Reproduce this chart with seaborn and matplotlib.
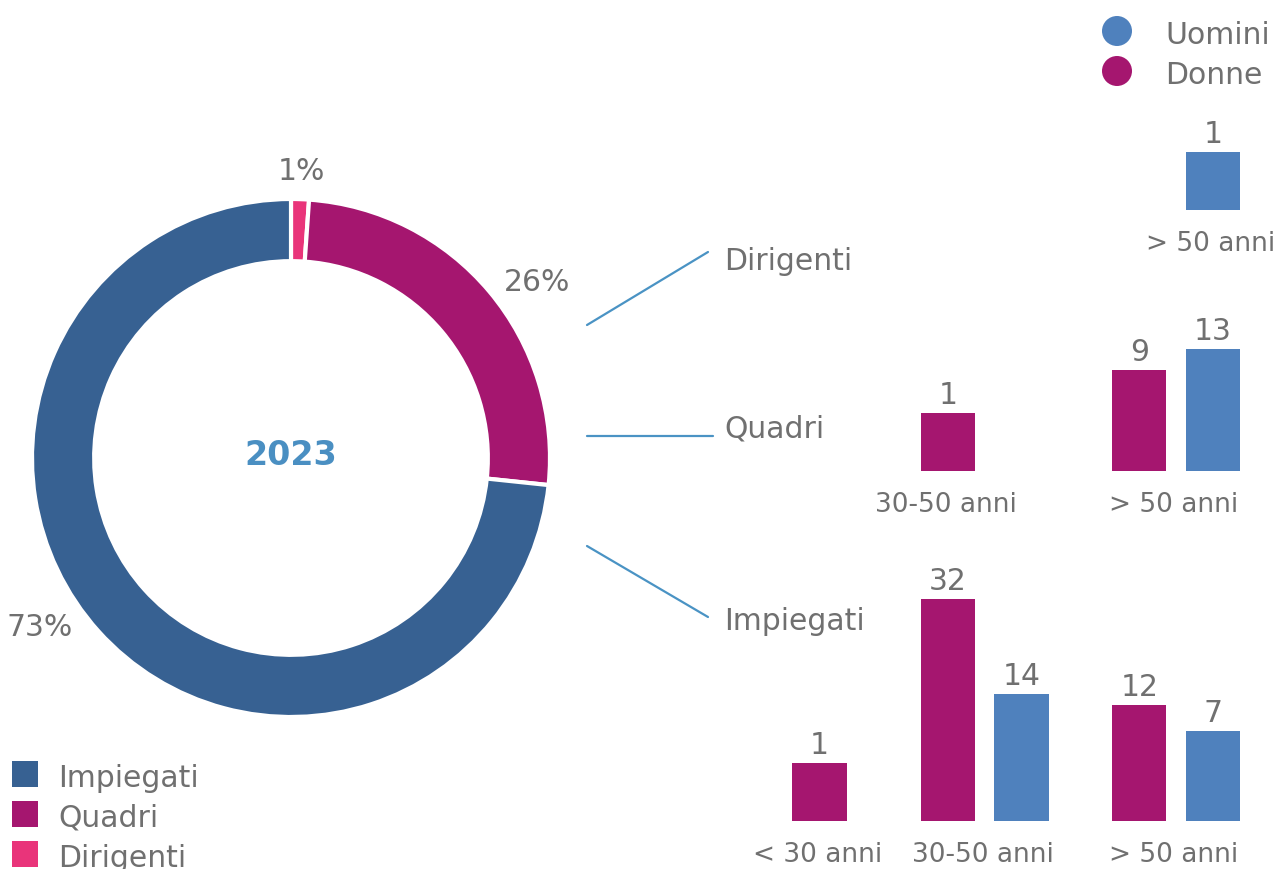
import numpy as np
import pandas as pd
import matplotlib
matplotlib.use("Agg")
import matplotlib.pyplot as plt
from matplotlib.patches import Rectangle, Circle
from matplotlib.lines import Line2D
import seaborn as sns

# Headcount by role, age band and sex
roles = ["Impiegati", "Quadri", "Dirigenti"]
age_bands = ["< 30 anni", "30-50 anni", "> 50 anni"]
sexes = ["Uomini", "Donne"]

impiegati_donne = [1, 32, 12]
impiegati_uomini = [0, 14, 7]
quadri_donne = [0, 1, 9]
quadri_uomini = [0, 0, 13]
dirigenti_donne = [0, 0, 0]
dirigenti_uomini = [0, 0, 1]

year_label = "2023"

# ---- styling -------------------------------------------------------------
sns.set_theme(style="white")
plt.rcParams["font.family"] = ["DejaVu Sans"]

GRAY = "#707070"
FS = 21.5
FS_TICK = 19
role_colors = {"Impiegati": "#376192", "Quadri": "#A5166F", "Dirigenti": "#E9347A"}
sex_colors = {"Uomini": "#4F81BD", "Donne": "#A5166F"}
LINK = "#4A93C4"

W, H = 1279, 870
fig = plt.figure(figsize=(W / 100, H / 100), dpi=100)


def box(x0, y0, x1, y1):
    """Pixel box measured from the top-left corner -> figure fraction rect."""
    return [x0 / W, 1 - y1 / H, (x1 - x0) / W, (y1 - y0) / H]


# ---- overlay for legends, connectors and row titles ----------------------
ov = fig.add_axes([0, 0, 1, 1])
ov.set_xlim(0, W)
ov.set_ylim(H, 0)
ov.axis("off")

# ---- donut ---------------------------------------------------------------
counts = {
    "Impiegati": sum(impiegati_donne) + sum(impiegati_uomini),
    "Quadri": sum(quadri_donne) + sum(quadri_uomini),
    "Dirigenti": sum(dirigenti_donne) + sum(dirigenti_uomini),
}
pie_order = ["Dirigenti", "Quadri", "Impiegati"]

cx, cy, R, LIM = 291, 459, 259, 1.3
ax_pie = fig.add_axes(box(cx - LIM * R, cy - LIM * R, cx + LIM * R, cy + LIM * R))
wedges, _, pct_texts = ax_pie.pie(
    [counts[r] for r in pie_order],
    colors=[role_colors[r] for r in pie_order],
    startangle=90,
    counterclock=False,
    radius=1,
    wedgeprops=dict(width=0.24, edgecolor="white", linewidth=3),
    autopct="%.0f%%",
    pctdistance=1.15,
    textprops=dict(color=GRAY, fontsize=FS),
)
# nudge the percentage labels to their resting spots around the ring
pct_spots = {"Dirigenti": (0.04, 1.11), "Quadri": (0.95, 0.68), "Impiegati": (-0.97, -0.65)}
for role, t in zip(pie_order, pct_texts):
    t.set_position(pct_spots[role])
ax_pie.set_xlim(-LIM, LIM)
ax_pie.set_ylim(-LIM, LIM)
ax_pie.set_aspect("equal")
ax_pie.text(0, 0.015, year_label, ha="center", va="center",
            fontsize=24, fontweight="bold", color="#4A8FC2")

# ---- bar rows ------------------------------------------------------------
SLOT = 73.5          # pixels per bar slot
ORIGIN = 1176        # pixel x of the "> 50 anni" group centre
group_pos = [-4.35, -2.6, 0.0]
sex_shift = {"Donne": -0.5, "Uomini": 0.5}
K = 10               # bars rise from a baseline below zero
PX_PER_UNIT = 5.29
X0, X1 = 740, 1279

row_data = {
    "Impiegati": (impiegati_donne, impiegati_uomini, 822, 300),
    "Quadri": (quadri_donne, quadri_uomini, 472, 200),
    "Dirigenti": (dirigenti_donne, dirigenti_uomini, 211, 150),
}

for role, (donne, uomini, base, hpx) in row_data.items():
    recs = []
    for i, band in enumerate(age_bands):
        for sex, vals in (("Donne", donne), ("Uomini", uomini)):
            if vals[i] > 0:
                recs.append(dict(band=band, sex=sex, value=vals[i],
                                 pos=group_pos[i] + sex_shift[sex]))
    df = pd.DataFrame(recs)
    df["height"] = df["value"] + K

    ax = fig.add_axes(box(X0, base - hpx, X1, base))
    ax.patch.set_alpha(0)
    sns.barplot(data=df, x="pos", y="height", hue="sex",
                hue_order=["Donne", "Uomini"], palette=sex_colors,
                native_scale=True, dodge=False, width=0.74,
                errorbar=None, saturation=1, legend=False,
                bottom=-K, linewidth=0, ax=ax)
    ax.set_xlim((X0 - ORIGIN) / SLOT, (X1 - ORIGIN) / SLOT)
    ax.set_ylim(-K, -K + hpx / PX_PER_UNIT)
    ax.axis("off")

    for _, r in df.iterrows():
        ax.annotate(f"{r['value']}", xy=(r["pos"], r["value"]), xytext=(0, 10),
                    textcoords="offset pixels", ha="center", va="baseline",
                    fontsize=FS, color=GRAY, annotation_clip=False)
    for band, sub in df.groupby("band", sort=False):
        ax.annotate(band, xy=(sub["pos"].mean() - 0.03, -K), xytext=(0, -40),
                    textcoords="offset pixels", ha="center", va="baseline",
                    fontsize=FS_TICK, color=GRAY, annotation_clip=False)

# ---- connectors and row titles -------------------------------------------
links = {
    "Dirigenti": ((587, 326), (708, 253), 270),
    "Quadri": ((587, 437), (713, 437), 438),
    "Impiegati": ((587, 547), (708, 618), 630),
}
for role in roles:
    (xa, ya), (xb, yb), ty = links[role]
    ov.add_line(Line2D([xa, xb], [ya, yb], color=LINK, lw=1.6))
    ov.text(724, ty, role, ha="left", va="baseline", fontsize=FS, color=GRAY)

# ---- sex legend (top right) ----------------------------------------------
for i, sex in enumerate(sexes):
    y = 32 + 40 * i
    ov.add_patch(Circle((1117, y), 15, color=sex_colors[sex], lw=0))
    ov.text(1165, y + 12, sex, ha="left", va="baseline", fontsize=FS, color=GRAY)

# ---- role legend (bottom left) -------------------------------------------
for i, role in enumerate(roles):
    y = 762 + 40 * i
    ov.add_patch(Rectangle((12, y), 26, 26, color=role_colors[role], lw=0))
    ov.text(58, y + 25, role, ha="left", va="baseline", fontsize=FS, color=GRAY)

fig.savefig("out.png", dpi=100)
